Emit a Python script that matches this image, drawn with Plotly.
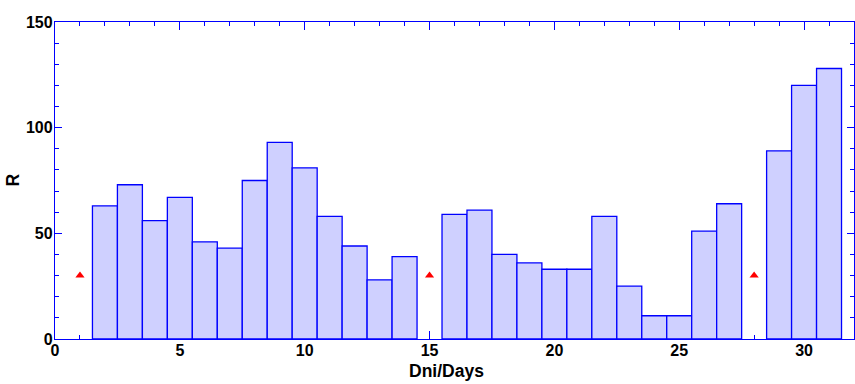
import plotly.graph_objects as go

days = [2, 3, 4, 5, 6, 7, 8, 9, 10, 11, 12, 13, 14,
        16, 17, 18, 19, 20, 21, 22, 23, 24, 25, 26, 27,
        29, 30, 31]
r_values = [63, 73, 56, 67, 46, 43, 75, 93, 81, 58, 44, 28, 39,
            59, 61, 40, 36, 33, 33, 58, 25, 11, 11, 51, 64,
            89, 120, 128]
marker_days = [1, 15, 28]
marker_values = [30, 30, 30]

x_tickvals = [0, 5, 10, 15, 20, 25, 30]
y_tickvals = [0, 50, 100, 150]

FAM = "Liberation Sans, Arial, sans-serif"
bold16 = dict(family=FAM, size=16, color="black", weight="bold")
bold_title = dict(family=FAM, size=17.5, color="black", weight="bold")

fig = go.Figure()
fig.add_trace(go.Bar(
    x=days, y=r_values, width=1,
    marker=dict(color="rgb(207,208,255)", line=dict(color="#0000FF", width=1.3)),
    showlegend=False,
))
fig.add_trace(go.Scatter(
    x=marker_days, y=marker_values, mode="markers",
    marker=dict(symbol="triangle-up", color="#FF0000", size=8),
    showlegend=False,
))

fig.update_layout(
    width=855, height=384,
    margin=dict(l=55, r=1, t=22, b=45),
    plot_bgcolor="white", paper_bgcolor="white",
    font=bold16,
    xaxis=dict(
        range=[0, 32], tickvals=x_tickvals, ticktext=[str(v) for v in x_tickvals],
        ticks="inside", ticklen=8, tickwidth=1.3, tickcolor="#0000FF",
        showline=True, linecolor="#0000FF", linewidth=1.3, mirror="ticks",
        showgrid=False, zeroline=False, automargin=False,
        minor=dict(dtick=1, tick0=0, ticks="inside", ticklen=4, tickwidth=1.3, tickcolor="#0000FF", showgrid=False),
        tickfont=bold16, ticklabelstandoff=-3,
        layer="below traces",
    ),
    yaxis=dict(
        range=[0, 150], tickvals=y_tickvals, ticktext=[str(v) for v in y_tickvals],
        ticks="inside", ticklen=7, tickwidth=1.3, tickcolor="#0000FF",
        showline=True, linecolor="#0000FF", linewidth=1.3, mirror="ticks",
        showgrid=False, zeroline=False, automargin=False,
        minor=dict(dtick=10, tick0=0, ticks="inside", ticklen=4, tickwidth=1.3, tickcolor="#0000FF", showgrid=False),
        tickfont=bold16, ticklabelstandoff=-2,
    ),
    annotations=[
        dict(text="Dni/Days", xref="paper", yref="paper", x=0.4906, y=0, yshift=-20,
             xanchor="center", yanchor="top", showarrow=False, font=bold_title),
        dict(text="R", xref="paper", yref="paper", x=0, xshift=-43, y=0.5,
             xanchor="center", yanchor="middle", textangle=-90, showarrow=False, font=bold_title),
    ],
)

fig.write_html("out.html", config={"displayModeBar": False},
               post_script="document.body.style.margin='0';")
